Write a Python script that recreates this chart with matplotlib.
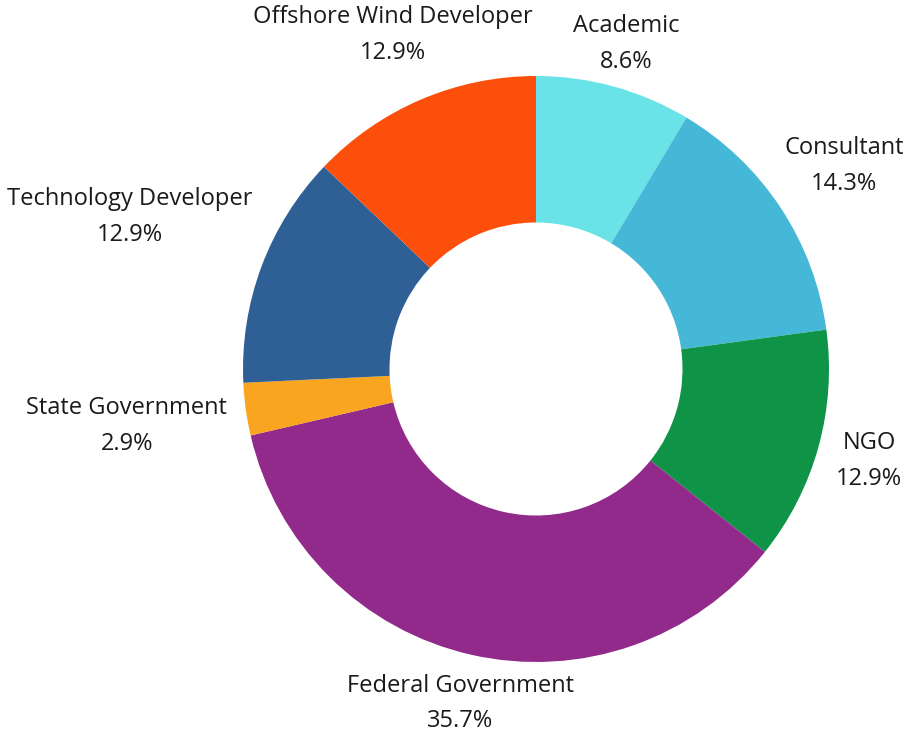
import numpy as np
import matplotlib.pyplot as plt

labels = ["Academic", "Consultant", "NGO", "Federal Government",
          "State Government", "Technology Developer", "Offshore Wind Developer"]
shares = [8.6, 14.3, 12.9, 35.7, 2.9, 12.9, 12.9]
colors = ["#6ae3e8", "#45b8d8", "#0f9447", "#922a8c", "#f9a51f", "#2e6096", "#fd4f0c"]

# how far out each label sits (in pie radii)
label_r = [1.15, 1.26, 1.18, 1.17, 1.41, 1.48, 1.24]

plt.rcParams['font.family'] = ['Open Sans', 'DejaVu Sans']

fig = plt.figure(figsize=(9.08, 7.36), dpi=100)
ax = fig.add_axes([0, 0, 1, 1])

R = 293.0
cx, cy = 536.0, 369.0
wedges, _ = ax.pie(shares, colors=colors, startangle=90, counterclock=False,
                   radius=1, wedgeprops=dict(width=0.5, edgecolor="none"))

total = sum(shares)
start = 90.0
for lab, s, r in zip(labels, shares, label_r):
    mid = np.deg2rad(start - s / total * 360 / 2)
    start -= s / total * 360
    ax.text(r * np.cos(mid), r * np.sin(mid), f"{lab}\n{s:.1f}%",
            ha="center", va="center", fontsize=17, linespacing=1.65, color="#1a1a1a")

ax.set_xlim(-cx / R, (908 - cx) / R)
ax.set_ylim(-(736 - cy) / R, cy / R)
ax.set_aspect("auto")
ax.axis("off")

fig.savefig("out.png", dpi=100)
